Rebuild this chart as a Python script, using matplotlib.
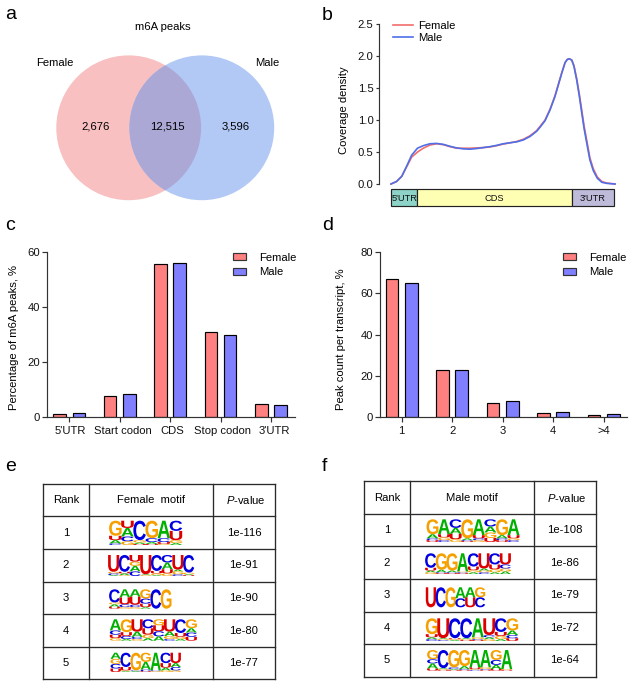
"""Fig: m6A peaks in female and male samples (venn, metagene, bars, motif tables)."""

import matplotlib
matplotlib.use("Agg")
import matplotlib.pyplot as plt
from matplotlib.font_manager import FontProperties
from matplotlib.lines import Line2D
from matplotlib.patches import Circle, PathPatch, Patch, Rectangle
from matplotlib.path import Path
from matplotlib.textpath import TextPath
from matplotlib.transforms import Affine2D, ScaledTranslation

plt.rcParams["font.family"] = ["Liberation Sans", "DejaVu Sans"]
plt.rcParams["mathtext.fontset"] = "custom"
plt.rcParams["mathtext.it"] = "Liberation Sans:italic"
plt.rcParams["mathtext.rm"] = "Liberation Sans"

W, H = 635, 685
FS = 8.1
DARK = "#333333"
FEMALE_BAR = "#FF8080"
MALE_BAR = "#8080FF"

# ── data ───────────────────────────────────────────────────────────────

venn_names = ["Female", "Male"]
venn_counts = ["2,676", "12,515", "3,596"]

tx_pos = [0, 2.5, 4.8, 7, 9.2, 11.8, 14.4, 17.4, 20.4, 23.4, 26.3, 29.3, 32.3,
          35.3, 38.2, 41.2, 44.2, 47.2, 50.1, 53.1, 56.1, 59.1, 62.1, 65, 66.5,
          68.75, 71, 73.2, 74.7, 76.2, 77.7, 78.7, 79.6, 80.7, 81.7, 82.9, 84.1,
          85.1, 86.2, 87.4, 88.8, 90.3, 92.1, 94.1, 96.3, 100]
cov_female = [0, .04, .12, .27, .42, .50, .56, .61, .63, .615, .585, .56, .56,
              .56, .565, .57, .58, .60, .625, .645, .665, .70, .755, .835, .90,
              1.00, 1.17, 1.38, 1.56, 1.74, 1.90, 1.95, 1.96, 1.94, 1.85, 1.65, 1.40,
              1.17, .91, .68, .41, .24, .11, .04, .015, 0]
cov_male = [0, .04, .12, .28, .45, .56, .60, .63, .635, .62, .59, .565, .55,
            .545, .555, .57, .585, .605, .63, .645, .66, .69, .745, .825, .887,
            .99, 1.16, 1.37, 1.55, 1.73, 1.90, 1.95, 1.96, 1.94, 1.84, 1.63, 1.37,
            1.13, .87, .64, .376, .21, .09, .027, .01, 0]
region_names = ["5'UTR", "CDS", "3'UTR"]
region_edges = [0, 11.7, 80.65, 99.7]
region_colors = ["#8DD3C7", "#FFFFB3", "#BEBADA"]

region_cats = ["5'UTR", "Start codon", "CDS", "Stop codon", "3'UTR"]
region_female = [1.0, 7.4, 55.6, 31.0, 4.6]
region_male = [1.2, 8.3, 56.0, 30.0, 4.3]

count_cats = ["1", "2", "3", "4", ">4"]
count_female = [66.9, 22.7, 6.8, 2.1, 1.2]
count_male = [65.3, 22.7, 7.9, 2.4, 1.3]

ranks = ["1", "2", "3", "4", "5"]
female_pvals = ["1e-116", "1e-91", "1e-90", "1e-80", "1e-77"]
male_pvals = ["1e-108", "1e-86", "1e-79", "1e-72", "1e-64"]

# each position is a stack, top letter first, with its share of the column
female_motifs = [
    ["G62 U18 A14 C6", "U30 A35 C20 G15", "C80 G10 A6 U4", "G72 C16 A8 U4",
     "A72 C16 U8 G4", "C42 U38 G12 A8"],
    ["U80 G8 C8 A4", "C80 U8 A8 G4", "U32 G20 A26 C22", "U92 A4 G4",
     "C76 U12 G8 A4", "C36 A32 U20 G12", "U70 A8 G14 C8", "C84 G8 A4 U4"],
    ["C68 G10 A12 U10", "A42 U36 C14 G8", "A38 U42 C12 G8", "G48 C26 U18 A8",
     "C100", "G100"],
    ["A52 C20 U16 G12", "G60 U18 C14 A8", "U58 A24 C10 G8", "C42 U30 G16 A12",
     "G28 U28 C24 A20", "U58 A20 G14 C8", "C64 U18 G10 A8", "G42 A20 C20 U18"],
    ["A32 G26 C24 U18", "C74 U18 G4 A4", "G92 C4 A4", "G48 A40 C8 U4",
     "A92 C4 G4", "C54 U24 A14 G8", "U54 A20 C18 G8"],
]
male_motifs = [
    ["G66 A18 C8 U8", "A66 U14 G12 C8", "C38 A26 U24 G12", "G84 A8 C4 U4",
     "A70 U14 C8 G8", "C32 A26 G24 U18", "G70 A14 C8 U8", "A70 U14 G8 C8"],
    ["C70 U14 A8 G8", "G80 A12 C4 U4", "G84 A8 C4 U4", "A88 G4 C4 U4",
     "C64 U18 G10 A8", "U74 A10 G8 C8", "C54 U24 G14 A8", "U54 C20 G14 A12"],
    ["U100", "C100", "G100", "A55 C45", "A50 U50", "G50 C50"],
    ["G70 U14 A8 C8", "U88 A4 G4 C4", "C88 U4 G4 A4", "C88 A4 G4 U4",
     "A84 G8 C4 U4", "U74 C10 A8 G8", "C60 U18 G14 A8", "G54 A20 C14 U12"],
    ["G45 C20 A25 U10", "C88 A4 G4 U4", "G84 C8 A4 U4", "G78 A14 C4 U4",
     "A84 U8 G4 C4", "A84 G8 C4 U4", "G48 C24 A20 U8", "A92 G4 U4"],
]

LOGO_COLORS = {"A": "#00B000", "C": "#0000E0", "G": "#F5A000", "U": "#DC0000"}
LOGO_FONT = FontProperties(family="Liberation Sans", weight="bold")

# logo boxes in pixels: left, right, top, bottom
female_boxes = [(109.3, 182, 520.7, 545), (108.3, 194, 555, 576),
                (109.3, 171.3, 589.3, 608.7), (110, 196.7, 619.3, 640.7),
                (110.7, 180.7, 652.7, 672)]
male_boxes = [(426.7, 519.3, 519.3, 542), (425.3, 510.7, 553.3, 574),
              (426, 485, 587.3, 607.3), (426, 518, 618.3, 641),
              (427.3, 512, 650, 670.7)]


# ── helpers ────────────────────────────────────────────────────────────

def axes_px(fig, left, right, top, bottom):
    return fig.add_axes([left / W, 1 - bottom / H, (right - left) / W, (bottom - top) / H])


def style_axes(ax, ticklen):
    for side in ("top", "right"):
        ax.spines[side].set_visible(False)
    for side in ("left", "bottom"):
        ax.spines[side].set_linewidth(0.85)
        ax.spines[side].set_color(DARK)
    ax.tick_params(axis="both", length=ticklen, width=0.85, color=DARK,
                   labelsize=FS, pad=1.5, labelcolor="#111111")


def draw_letter(ax, letter, left, right, top, bottom):
    tp = TextPath((0, 0), letter, size=1, prop=LOGO_FONT)
    box = tp.get_extents()
    tf = (Affine2D().translate(-box.x0, -box.y0)
          .scale((right - left) / box.width, -(bottom - top) / box.height)
          .translate(left, bottom))
    ax.add_patch(PathPatch(Path(tp.vertices, tp.codes), transform=tf + ax.transData,
                           fc=LOGO_COLORS[letter], ec="none"))


def draw_logo(ax, motif, box):
    left, right, top, bottom = box
    step = (right - left) / len(motif)
    for i, column in enumerate(motif):
        stack = [(s[0], float(s[1:])) for s in column.split()]
        total = sum(v for _, v in stack)
        y = top
        for letter, v in stack:
            h = (bottom - top) * v / total
            draw_letter(ax, letter, left + i * step - 0.2, left + (i + 1) * step + 0.2, y, y + h)
            y += h


def draw_table(ax, xs, ys, title, motifs, pvals, boxes):
    for x in xs:
        ax.plot([x, x], [ys[0], ys[-1]], color="#2a2a2a", lw=0.95, solid_capstyle="projecting")
    for y in ys:
        ax.plot([xs[0], xs[-1]], [y, y], color="#2a2a2a", lw=0.95, solid_capstyle="projecting")
    ax.text((xs[0] + xs[1]) / 2, (ys[0] + ys[1]) / 2, "Rank", ha="center", va="center", fontsize=FS)
    ax.text((xs[1] + xs[2]) / 2, (ys[0] + ys[1]) / 2, title, ha="center", va="center", fontsize=FS)
    ax.text((xs[2] + xs[3]) / 2 + 2, (ys[0] + ys[1]) / 2, r"$\mathit{P}$-value",
            ha="center", va="center", fontsize=FS)
    for i in range(len(ranks)):
        yc = (ys[i + 1] + ys[i + 2]) / 2
        ax.text((xs[0] + xs[1]) / 2, yc, ranks[i], ha="center", va="center", fontsize=FS)
        ax.text((xs[2] + xs[3]) / 2, yc, pvals[i], ha="center", va="center", fontsize=FS)
        draw_logo(ax, motifs[i], boxes[i])


def bar_panel(fig, px, legend_x, ylim, yticks, cats, female, male, ylabel, label_x, label_y, label_shift):
    left, right, top, bottom, first_tick, spacing = px
    ax = axes_px(fig, left, right, top, bottom)
    style_axes(ax, 3.6)
    ax.set_xlim((left - first_tick) / spacing, (right - first_tick) / spacing)
    ax.set_ylim(*ylim)
    for i in range(len(cats)):
        ax.bar(i - 0.19, female[i], width=0.25, color=FEMALE_BAR, edgecolor="black", linewidth=0.85)
        ax.bar(i + 0.19, male[i], width=0.25, color=MALE_BAR, edgecolor="black", linewidth=0.85)
    ax.set_xticks(range(len(cats)), cats)
    ax.set_yticks(yticks)
    ax.tick_params(axis="x", pad=3)
    for lab, dx in zip(ax.get_xticklabels(), label_shift):
        lab.set_transform(lab.get_transform() + ScaledTranslation(dx / 100, 0, fig.dpi_scale_trans))
    ax.set_ylabel(ylabel, fontsize=FS)
    ax.yaxis.set_label_coords((label_x + 6 - left) / (right - left), label_y)
    handles = [Patch(fc=FEMALE_BAR, ec=DARK, lw=0.85), Patch(fc=MALE_BAR, ec=DARK, lw=0.85)]
    ax.legend(handles, venn_names, frameon=False, fontsize=FS, loc="upper left",
              bbox_to_anchor=((legend_x - left) / (right - left), 0.997), borderpad=0, borderaxespad=0,
              handlelength=1.17, handleheight=0.58, handletextpad=1.2, labelspacing=0.38)
    return ax


# ── figure ─────────────────────────────────────────────────────────────

fig = plt.figure(figsize=(W / 100, H / 100), dpi=100)

bg = fig.add_axes([0, 0, 1, 1])
bg.set_xlim(0, W)
bg.set_ylim(H, 0)
bg.axis("off")

for letter, x, y in [("a", 5, 19), ("b", 322, 20), ("c", 5, 230), ("d", 322, 230),
                     ("e", 5, 471), ("f", 322, 471)]:
    bg.text(x, y, letter, fontsize=14, ha="left", va="baseline")

# a: venn
left_c = Circle((128.7, 127.8), 72.4, fc="#F8C0C0", ec="none")
right_c = Circle((201.8, 127.8), 72.4, fc="#B2C9F5", ec="none")
bg.add_patch(left_c)
bg.add_patch(right_c)
overlap = Circle((128.7, 127.8), 72.4, fc="#ABA8D6", ec="none")
bg.add_patch(overlap)
overlap.set_clip_path(right_c)
bg.text(162.5, 27, "m6A peaks", ha="center", va="center", fontsize=FS)
bg.text(55.3, 63, venn_names[0], ha="center", va="center", fontsize=FS)
bg.text(267, 63, venn_names[1], ha="center", va="center", fontsize=FS)
for x, s in zip([96, 167, 236], venn_counts):
    bg.text(x, 126.5, s, ha="center", va="center", fontsize=FS)

# b: metagene coverage
ax_b = axes_px(fig, 379, 616, 24.3, 184)
style_axes(ax_b, 2.4)
ax_b.spines["bottom"].set_visible(False)
ax_b.set_xlim(-5.36, 100.45)
ax_b.set_ylim(0, 2.5)
ax_b.set_xticks([])
ax_b.set_yticks([0, 0.5, 1.0, 1.5, 2.0, 2.5], ["0.0", "0.5", "1.0", "1.5", "2.0", "2.5"])
ax_b.plot(tx_pos, cov_female, color="#F26D6D", lw=1.2, clip_on=False, label=venn_names[0])
ax_b.plot(tx_pos, cov_male, color="#4F6FE8", lw=1.2, clip_on=False, label=venn_names[1])
ax_b.set_ylabel("Coverage density", fontsize=FS)
ax_b.yaxis.set_label_coords((348.7 - 379) / 237, 0.46)
ax_b.legend(handles=[Line2D([], [], color="#F26D6D", lw=1.2), Line2D([], [], color="#4F6FE8", lw=1.2)],
            labels=venn_names, frameon=False, fontsize=FS, loc="upper left",
            bbox_to_anchor=((393 - 379) / 237, 1.022), borderpad=0, borderaxespad=0,
            handlelength=1.75, handletextpad=0.45, labelspacing=0.2)

ax_r = axes_px(fig, 379, 616, 189.3, 206)
ax_r.set_xlim(-5.36, 100.45)
ax_r.set_ylim(0, 1)
ax_r.axis("off")
for i, name in enumerate(region_names):
    ax_r.add_patch(Rectangle((region_edges[i], 0), region_edges[i + 1] - region_edges[i], 1,
                             fc=region_colors[i], ec="#222222", lw=0.85, clip_on=False))
    ax_r.text((region_edges[i] + region_edges[i + 1]) / 2, 0.47, name, ha="center", va="center",
              fontsize=6.7, color="#111111", clip_on=False)

# c, d: bars
bar_panel(fig, (47, 295, 252.3, 416.7, 69.3, 50.4), 232.7, (0, 60), [0, 20, 40, 60],
          region_cats, region_female, region_male, "Percentage of m6A peaks, %", 12.7, 0.48,
          [1, 3, 2.3, 2, 3.3])
bar_panel(fig, (380, 627, 252.3, 417, 401.7, 50.5), 562.7, (0, 80), [0, 20, 40, 60, 80],
          count_cats, count_female, count_male, "Peak count per transcript, %", 340, 0.47,
          [0, 0, 0, 0, 0])

# e, f: motif tables
draw_table(bg, [42.7, 89.3, 212.7, 275.3], [484, 516.3, 549, 581.7, 614.3, 646.7, 679.3],
           "Female  motif", female_motifs, female_pvals, female_boxes)
draw_table(bg, [363.7, 410.3, 533.7, 596.3], [481.3, 513.7, 546.3, 579, 611.7, 644, 676.7],
           "Male motif", male_motifs, male_pvals, male_boxes)

fig.savefig("out.png", dpi=100)
